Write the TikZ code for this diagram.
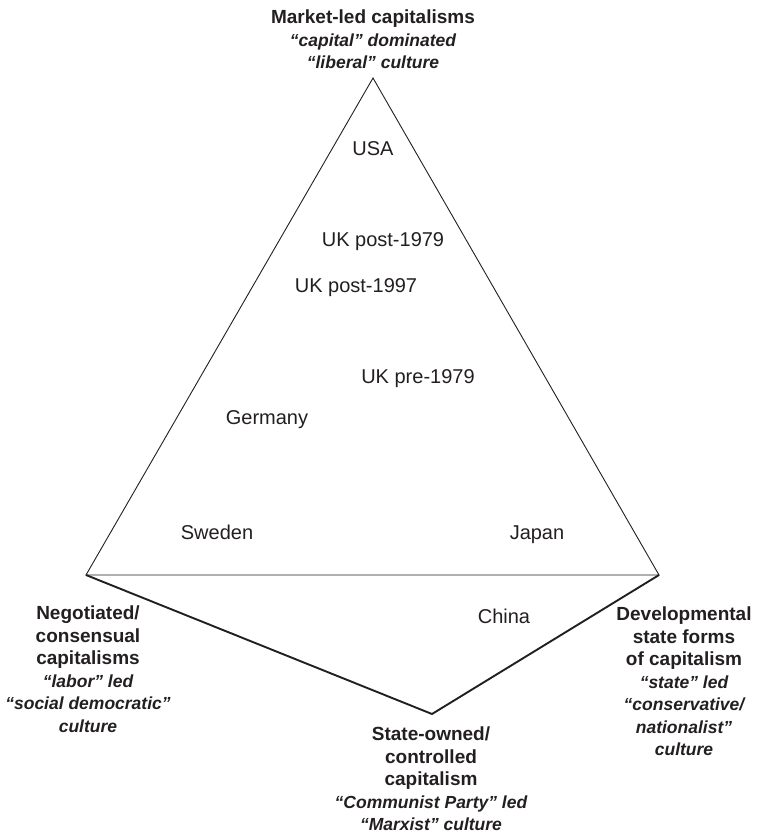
\documentclass[tikz,border=0pt]{standalone}
\usepackage{fontspec}
\setmainfont{Liberation Sans}
\definecolor{ink}{HTML}{231F20}
\newcommand\ital[1]{{\itshape\fontsize{17.5}{22.5}\selectfont #1}}
\begin{document}
\begin{tikzpicture}[x=1pt,y=-1pt,
  heading/.style={align=center,anchor=north,inner sep=0pt,text=ink,
    font=\bfseries\fontsize{19}{22.5}\selectfont},
  country/.style={anchor=base,inner sep=0pt,text=ink,
    font=\fontsize{20}{24}\selectfont},
  side/.style={draw=ink,line width=0.9pt,line join=miter},
  lower/.style={draw=ink,line width=1.9pt,line join=miter}]
\useasboundingbox (0,0) rectangle (757,836);
\coordinate (A) at (373,78);
\coordinate (L) at (86,575);
\coordinate (R) at (659,575);
\coordinate (B) at (432,714);
\draw[side] (A) -- (L) -- (R) -- cycle;
\draw[lower] (L) -- (B) -- (R);
\node[heading] (market) at (373,10) {Market-led capitalisms\\\ital{“capital” dominated}\\\ital{“liberal” culture}};
\node[heading] (negot) at (88,606) {Negotiated/\\consensual\\capitalisms\\\ital{“labor” led}\\\ital{“social democratic”}\\\ital{culture}};
\node[heading] (devel) at (684,607) {Developmental\\state forms\\of capitalism\\\ital{“state” led}\\\ital{“conservative/}\\\ital{nationalist”}\\\ital{culture}};
\node[heading] (stateown) at (431,727) {State-owned/\\controlled\\capitalism\\\ital{“Communist Party” led}\\\ital{“Marxist” culture}};
\node[country] (usa) at (373,155) {USA};
\node[country] (ukpost79) at (383,246) {UK post-1979};
\node[country] (ukpost97) at (356,292) {UK post-1997};
\node[country] (ukpre79) at (418,383) {UK pre-1979};
\node[country] (germany) at (267,424) {Germany};
\node[country] (sweden) at (217,539) {Sweden};
\node[country] (japan) at (537,539) {Japan};
\node[country] (china) at (504,623) {China};
\end{tikzpicture}
\end{document}
